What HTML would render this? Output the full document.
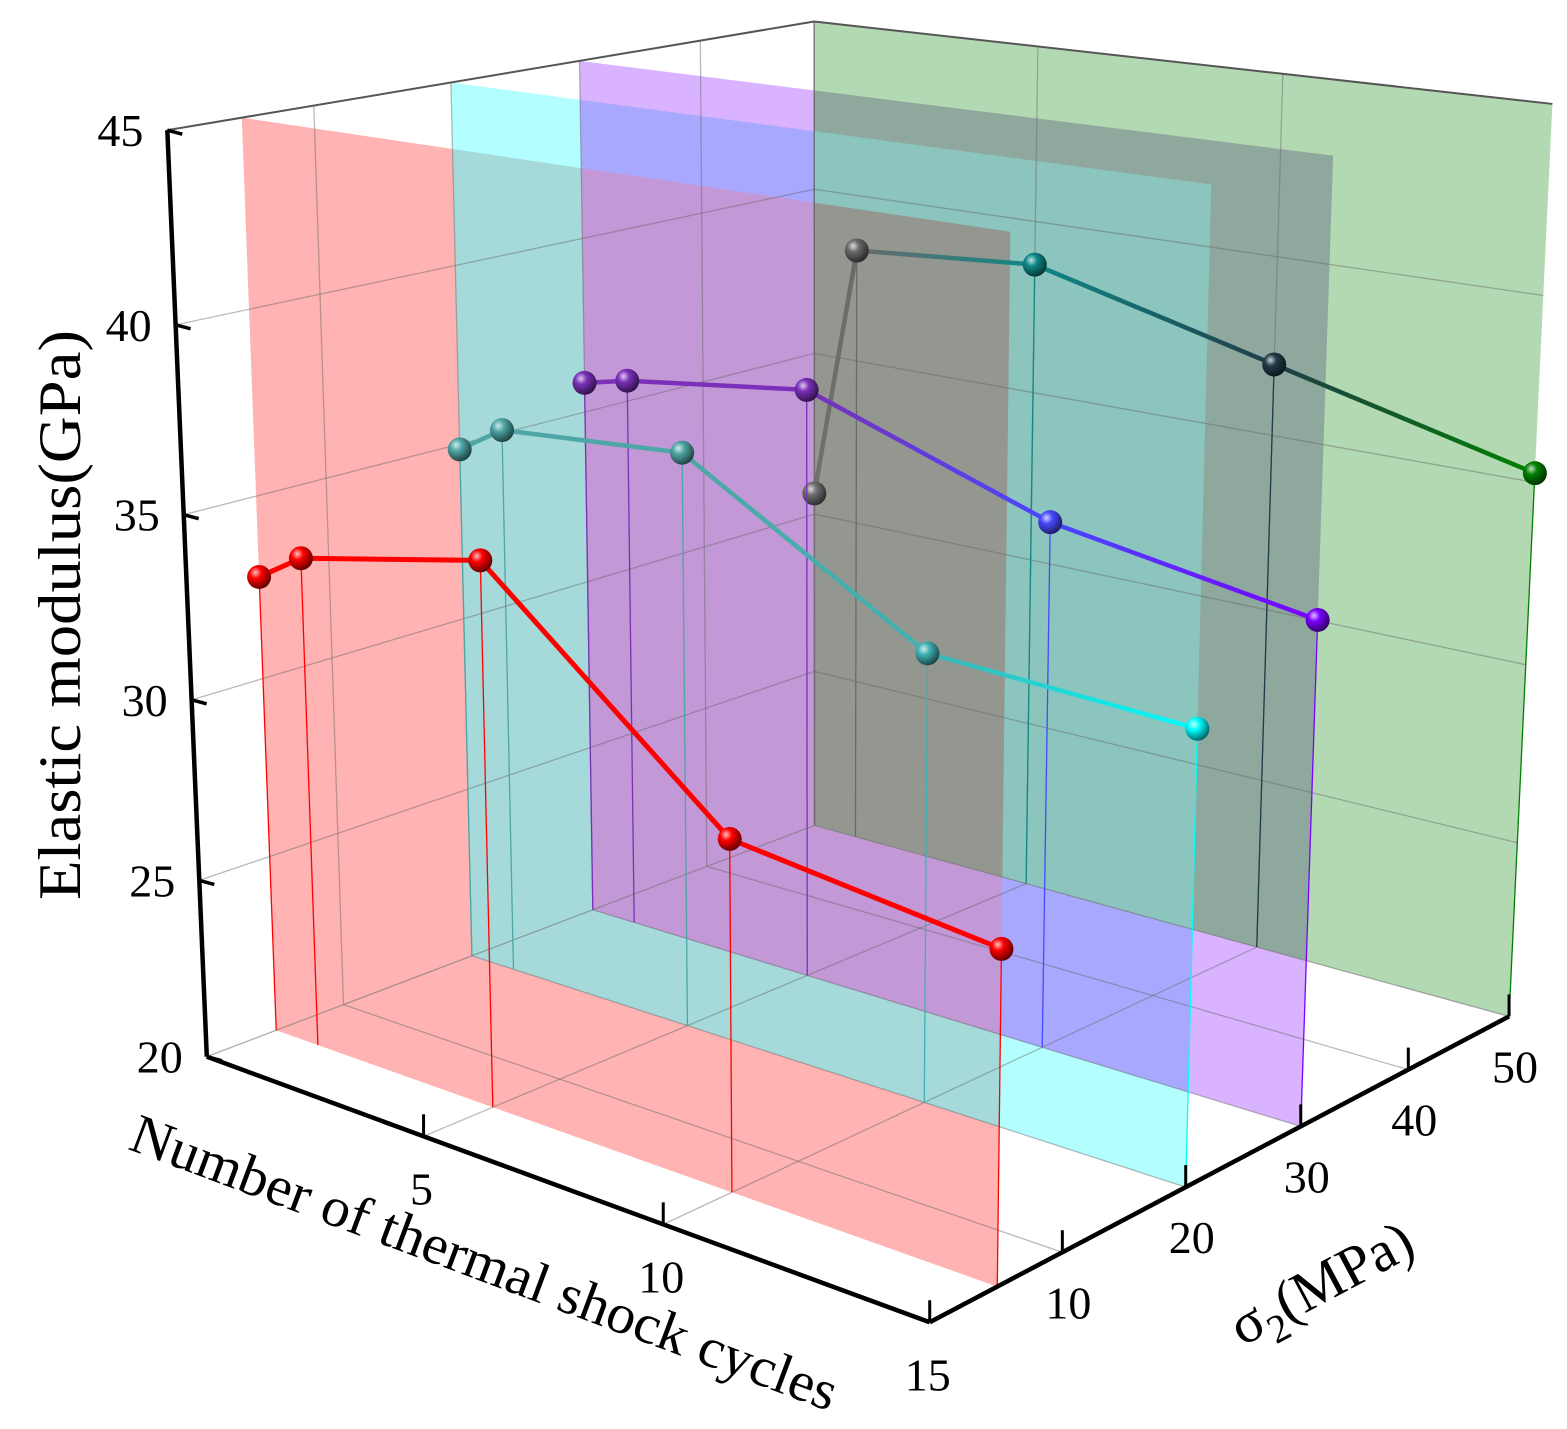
<!DOCTYPE html>
<html><head><meta charset="utf-8"><title>Elastic modulus 3D chart</title>
<style>
html,body{margin:0;padding:0;background:#fff;}
svg{display:block;}
text{font-family:"Liberation Serif","DejaVu Serif",serif;fill:#000;}
</style></head>
<body>
<svg id="chart" width="1567" height="1429" viewBox="0 0 1567 1429" xmlns="http://www.w3.org/2000/svg">
<defs id="defs"></defs>
<g id="layer"></g>
</svg>
<script>
// ---- chart data ----
const cycles = [0, 1, 5, 10, 15];
const sigmaLevels = [5, 20, 30, 50];
const modulusRed = [32.8, 33.6, 34.7, 29.2, 28.4];
const modulusCyan = [34.85, 35.65, 36.05, 32.15, 31.85];
const modulusPurple = [35.85, 36.15, 36.85, 34.55, 33.45];
const modulusGreen = [30.65, 38.35, 38.75, 37.0, 35.25];
const zTicks = [20, 25, 30, 35, 40, 45];
const cycleTicks = [5, 10, 15];
const sigmaTicks = [10, 20, 30, 40, 50];

// ---- camera calibration (axis-space -> screen) ----
const cameraCalib = [
 [0,0,20,207,1058],[5,0,20,428,1137],[10,0,20,665,1222],[15,0,20,930,1322],
 [15,10,20,1062,1252],[15,20,20,1186,1188],[15,30,20,1300,1128],[15,40,20,1407,1070],[15,50,20,1507,1020],
 [0,0,25,197,880],[0,0,30,187,697],[0,0,35,180,513],[0,0,40,174,323],[0,0,45,168,128],
 [0,50,45,815,25],[0,50,20,815,825],[15,50,45,1550,85],
 [0,5,45,242,118],[15,5,20,1000,1285],[0,5,20,275,1030],
 [0,20,45,453,85],[15,20,45,1213,192],[0,20,20,473,955],
 [0,30,45,582,63],[15,30,45,1333,165],[0,30,20,594,910]
];
function nx(c){return c/15;} function ny(s){return s/50;} function nz(e){return (e-20)/25;}
function solveLin(A,b){
  const n=b.length; const M=A.map((r,i)=>r.concat([b[i]]));
  for(let c=0;c<n;c++){
    let p=c; for(let r=c+1;r<n;r++) if(Math.abs(M[r][c])>Math.abs(M[p][c])) p=r;
    [M[c],M[p]]=[M[p],M[c]];
    for(let r=0;r<n;r++){ if(r===c) continue; const f=M[r][c]/M[c][c]; for(let k=c;k<=n;k++) M[r][k]-=f*M[c][k]; }
  }
  return M.map((r,i)=>r[n]/r[i]);
}
const P=(function(){
  const rows=[],rhs=[];
  cameraCalib.forEach(q=>{
    const X=nx(q[0]),Y=ny(q[1]),Z=nz(q[2]),u=q[3]/1000,v=q[4]/1000;
    rows.push([X,Y,Z,1,0,0,0,0,-u*X,-u*Y,-u*Z]); rhs.push(u);
    rows.push([0,0,0,0,X,Y,Z,1,-v*X,-v*Y,-v*Z]); rhs.push(v);
  });
  const N=11, AtA=[],Atb=[];
  for(let i=0;i<N;i++){AtA.push(new Array(N).fill(0));Atb.push(0);}
  rows.forEach((r,k)=>{for(let i=0;i<N;i++){Atb[i]+=r[i]*rhs[k];for(let j=0;j<N;j++)AtA[i][j]+=r[i]*r[j];}});
  return solveLin(AtA,Atb);
})();
function proj(c,s,e){
  const X=nx(c),Y=ny(s),Z=nz(e);
  const w=P[8]*X+P[9]*Y+P[10]*Z+1;
  return [1000*(P[0]*X+P[1]*Y+P[2]*Z+P[3])/w, 1000*(P[4]*X+P[5]*Y+P[6]*Z+P[7])/w];
}

const NS='http://www.w3.org/2000/svg';
const layer=document.getElementById('layer');
const defs=document.getElementById('defs');
function mk(tag,attrs,parent){const el=document.createElementNS(NS,tag);for(const k in attrs)el.setAttribute(k,attrs[k]);(parent||layer).appendChild(el);return el;}
function line3(a,b,stroke,w,parent,op){const p=proj(...a),q=proj(...b);const l=mk('line',{x1:p[0],y1:p[1],x2:q[0],y2:q[1],stroke:stroke,'stroke-width':w},parent);if(op!==undefined)l.setAttribute('stroke-opacity',op);return l;}
function shade(hex,f){const n=parseInt(hex.slice(1),16);let r=n>>16,g=(n>>8)&255,b=n&255;
  if(f>0){r=r+(255-r)*f;g=g+(255-g)*f;b=b+(255-b)*f;}else{r*=1+f;g*=1+f;b*=1+f;}
  return 'rgb('+Math.round(r)+','+Math.round(g)+','+Math.round(b)+')';}
let gid=0;
function ballGrad(col){
  const id='bg'+(gid++);
  const g=mk('radialGradient',{id:id,cx:'35%',cy:'32%',r:'70%'},defs);
  mk('stop',{offset:'0','stop-color':shade(col,0.75)},g);
  mk('stop',{offset:'0.35','stop-color':col},g);
  mk('stop',{offset:'1','stop-color':shade(col,-0.6)},g);
  return id;
}
function segGrad(p,q,c1,c2){
  const id='sg'+(gid++);
  const g=mk('linearGradient',{id:id,gradientUnits:'userSpaceOnUse',x1:p[0],y1:p[1],x2:q[0],y2:q[1]},defs);
  mk('stop',{offset:'0','stop-color':c1},g);
  mk('stop',{offset:'1','stop-color':c2},g);
  return id;
}

// ---- series definitions ----
const seriesDefs=[
 {name:'sigma-5',idx:0,vals:modulusRed,lw:5,
  pc:['#ff0000','#ff0000','#ff0000','#ff0000','#ff0000']},
 {name:'sigma-20',idx:1,vals:modulusCyan,lw:4.5,
  pc:['#4fa6a6','#4fa6a6','#4fa6a6','#40b2b2','#00ffff']},
 {name:'sigma-30',idx:2,vals:modulusPurple,lw:4.5,
  pc:['#7a30b8','#7a30b8','#7a30b8','#4848ff','#7a00ff']},
 {name:'sigma-50',idx:3,vals:modulusGreen,lw:4.5,
  pc:['#707070','#6a6a6a','#108888','#203c48','#008000']}
];
// overlap colours keyed by bitmask: 1 red, 2 cyan, 4 purple, 8 green
const regionColors={1:'#ffb3b3',2:'#b3ffff',4:'#d9b3ff',8:'#b3d9b3',
 3:'#a6dada',5:'#be96d2',9:'#aaaa96',6:'#a8a8ff',10:'#91c8be',12:'#8fa89e',
 7:'#c298d6',11:'#96a096',13:'#969690',14:'#8cc4be',15:'#949690'};

// ---- planes (explicit overlap regions) ----
const planesG=mk('g',{});


const planePts=seriesDefs.map(sd=>{
  const s=sigmaLevels[sd.idx];
  return [[0,s,20],[15,s,20],[15,s,45],[0,s,45]].map(p=>proj(...p).join(',')).join(' ');
});
planePts.forEach((pts,i)=>{const cp=mk('clipPath',{id:'clip'+i},defs);mk('polygon',{points:pts},cp);});
const masks=Object.keys(regionColors).map(Number).sort((a,b)=>{
  const pc=m=>((m&1)+((m>>1)&1)+((m>>2)&1)+((m>>3)&1));return pc(a)-pc(b)||a-b;});
masks.forEach(m=>{
  const bits=[0,1,2,3].filter(b=>m&(1<<b));
  let parent=planesG;
  for(let k=1;k<bits.length;k++){parent=mk('g',{'clip-path':'url(#clip'+bits[k]+')'},parent);}
  const poly=mk('polygon',{points:planePts[bits[0]],fill:regionColors[m],stroke:'none'},parent);
  
  
});

// ---- grids (seen through translucent planes) ----
const grid=mk('g',{});


const gc='#666', gop=0.45;
[5,10].forEach(c=>{line3([c,0,20],[c,50,20],gc,1.3,grid,gop);line3([c,50,20],[c,50,45],gc,1.3,grid,gop);});
[10,20,30,40].forEach(s=>{line3([0,s,20],[15,s,20],gc,1.3,grid,gop);line3([0,s,20],[0,s,45],gc,1.3,grid,gop);});
[25,30,35,40].forEach(e=>{line3([0,0,e],[0,50,e],gc,1.3,grid,gop);line3([0,50,e],[15,50,e],gc,1.3,grid,gop);});
const box=mk('g',{});


line3([0,0,45],[0,50,45],'#555',2,box);line3([0,50,45],[15,50,45],'#555',2,box);
line3([0,50,20],[0,50,45],'#555',1.5,box,0.7);line3([0,0,20],[0,50,20],'#777',1.3,box,0.6);line3([0,50,20],[15,50,20],'#777',1.3,box,0.6);

// ---- series drawn on top, back to front ----
seriesDefs.slice().reverse().forEach(sd=>{
  const s=sigmaLevels[sd.idx];
  const g=mk('g',{});
  
  
  cycles.forEach((c,i)=>{
    const d=line3([c,s,20],[c,s,sd.vals[i]],sd.pc[i],1.3,g);
    
    
  });
  for(let i=0;i<cycles.length-1;i++){
    const p=proj(cycles[i],s,sd.vals[i]),q=proj(cycles[i+1],s,sd.vals[i+1]);
    const id=segGrad(p,q,sd.pc[i],sd.pc[i+1]);
    const seg=mk('line',{x1:p[0],y1:p[1],x2:q[0],y2:q[1],stroke:'url(#'+id+')','stroke-width':sd.lw,'stroke-linecap':'round'},g);
    
    
  }
  cycles.forEach((c,i)=>{
    const p=proj(c,s,sd.vals[i]);
    const id=ballGrad(sd.pc[i]);
    const m=mk('circle',{cx:p[0],cy:p[1],r:12,fill:'url(#'+id+')'},g);
    
    
  });
});

// ---- axes ----
const axes=mk('g',{});


const az=line3([0,0,20],[0,0,45],'#000',4.5,axes);


const ax=line3([0,0,20],[15,0,20],'#000',4.5,axes);


const ay=line3([15,0,20],[15,50,20],'#000',4.5,axes);


zTicks.forEach(e=>{
  const p=proj(0,0,e);
  mk('line',{x1:p[0],y1:p[1],x2:p[0]+15,y2:p[1]+4,stroke:'#000','stroke-width':3.5},axes);
  const t=mk('text',{x:p[0]-47,y:p[1]+16,'font-size':46,'text-anchor':'middle'},axes);
  t.textContent=String(e);
  
  
});
cycleTicks.forEach(c=>{
  const p=proj(c,0,20);
  mk('line',{x1:p[0],y1:p[1],x2:p[0],y2:p[1]-22,stroke:'#000','stroke-width':3},axes);
  const t=mk('text',{x:p[0]-2,y:p[1]+68,'font-size':46,'text-anchor':'middle'},axes);
  t.textContent=String(c);
  
  
});
sigmaTicks.forEach(s=>{
  const p=proj(15,s,20);
  mk('line',{x1:p[0],y1:p[1],x2:p[0],y2:p[1]-22,stroke:'#000','stroke-width':3},axes);
  const t=mk('text',{x:p[0]+6,y:p[1]+66,'font-size':46,'text-anchor':'middle'},axes);
  t.textContent=String(s);
  
  
});

// ---- axis titles ----
const svg=document.getElementById('chart');
function addText(txt,tf,size,len,name){
  const t=document.createElementNS(NS,'text');
  t.setAttribute('transform',tf);t.setAttribute('text-anchor','middle');
  t.setAttribute('font-size',size);t.setAttribute('textLength',len);t.setAttribute('lengthAdjust','spacingAndGlyphs');
  
  
  t.textContent=txt;svg.appendChild(t);return t;
}
addText('Elastic modulus(GPa)','translate(80,615) rotate(-90)',60,570,'y-axis-title');
addText('Number of thermal shock cycles','translate(478,1280) rotate(20.5)',56,750,'x-axis-title');
const st=document.createElementNS(NS,'text');
st.setAttribute('transform','translate(1330,1300) rotate(-28)');
st.setAttribute('text-anchor','middle');st.setAttribute('font-size',58);


st.innerHTML='σ<tspan font-size="40" dy="14">2</tspan><tspan dy="-14">(MPa)</tspan>';
svg.appendChild(st);
</script>
</body></html>
